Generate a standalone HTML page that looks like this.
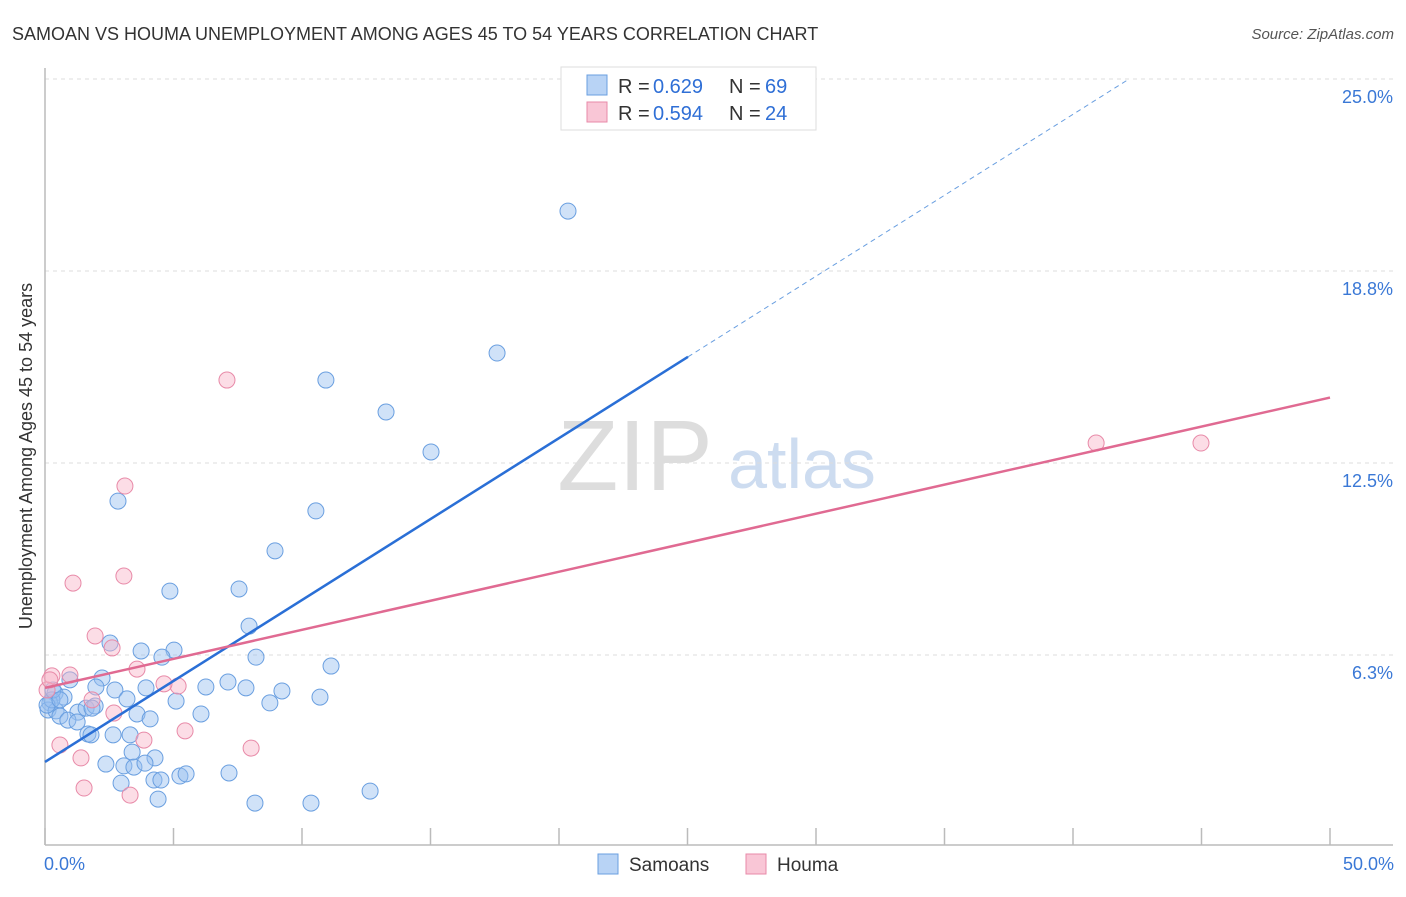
<!DOCTYPE html>
<html><head><meta charset="utf-8"><style>
body{margin:0;background:#fff;font-family:"Liberation Sans",sans-serif;}
svg text{font-family:"Liberation Sans",sans-serif;}
</style></head><body>
<svg id="chart" width="1406" height="892" xmlns="http://www.w3.org/2000/svg">
<text x="12" y="40" font-size="18" fill="#333">SAMOAN VS HOUMA UNEMPLOYMENT AMONG AGES 45 TO 54 YEARS CORRELATION CHART</text>
<text x="1394" y="39" font-size="15" fill="#555" font-style="italic" text-anchor="end">Source: ZipAtlas.com</text>
<text x="32" y="456" font-size="18" fill="#333" text-anchor="middle" transform="rotate(-90 32 456)">Unemployment Among Ages 45 to 54 years</text>
<g><text x="635" y="490" font-size="100" fill="#ddd" font-family="Liberation Serif" text-anchor="middle">ZIP</text><text x="802" y="488" font-size="70" fill="#cddcf0" text-anchor="middle">atlas</text></g>
<g id="grid"></g><g id="axes"></g><g id="marks"></g>
<g>
<rect x="561" y="67" width="255" height="63" fill="#fff" stroke="#ddd"/>
<rect x="587" y="75" width="20" height="20" fill="#b8d3f5" stroke="#6a9fe0"/>
<rect x="587" y="102" width="20" height="20" fill="#f9c6d6" stroke="#e88aa8"/>
<text x="618" y="93" font-size="20" fill="#333">R = </text><text x="653" y="93" font-size="20" fill="#2f6fd6">0.629</text>
<text x="729" y="93" font-size="20" fill="#333">N = </text><text x="765" y="93" font-size="20" fill="#2f6fd6">69</text>
<text x="618" y="120" font-size="20" fill="#333">R = </text><text x="653" y="120" font-size="20" fill="#2f6fd6">0.594</text>
<text x="729" y="120" font-size="20" fill="#333">N = </text><text x="765" y="120" font-size="20" fill="#2f6fd6">24</text>
</g>
<g>
<rect x="598" y="854" width="20" height="20" fill="#b8d3f5" stroke="#6a9fe0"/>
<text x="629" y="871" font-size="19" fill="#333">Samoans</text>
<rect x="746" y="854" width="20" height="20" fill="#f9c6d6" stroke="#e88aa8"/>
<text x="777" y="871" font-size="19" fill="#333">Houma</text>
</g>
</svg>
<script>
const yTicks=[25.0,18.8,12.5,6.3];
const yTickVals=[25,18.75,12.5,6.25];
const xTickLabels=["0.0%","50.0%"];
const samoanX=[20.35,17.59,10.93,13.27,15.02,10.54,2.84,8.95,4.86,7.55,7.94,2.53,3.74,5.02,4.55,8.21,11.13,2.22,0.97,1.98,2.72,3.93,6.26,7.12,7.82,9.22,10.70,0.39,0.74,0.19,0.12,0.43,0.58,1.28,1.60,1.95,3.19,5.10,8.75,0.89,1.25,1.83,3.58,4.09,6.07,1.67,1.79,2.65,3.31,3.39,4.28,2.37,3.07,3.46,3.89,5.25,5.49,4.24,4.51,2.96,7.16,4.40,8.17,10.35,12.65,0.27,0.08,0.31,0.58];
const samoanY=[20.70,16.08,15.2,14.16,12.86,10.94,11.26,9.64,8.33,8.40,7.19,6.64,6.38,6.41,6.18,6.18,5.89,5.50,5.44,5.21,5.11,5.18,5.21,5.37,5.18,5.08,4.88,5.01,4.88,4.69,4.46,4.43,4.26,4.39,4.52,4.59,4.82,4.75,4.69,4.13,4.07,4.52,4.33,4.17,4.33,3.68,3.65,3.65,3.65,3.09,2.90,2.70,2.64,2.60,2.73,2.31,2.38,2.18,2.18,2.08,2.41,1.56,1.43,1.43,1.82,4.79,4.62,5.11,4.79];
const houmaX=[7.08,3.11,3.07,1.09,1.95,2.61,3.58,0.27,0.97,5.18,4.63,0.08,1.83,2.68,5.45,0.58,3.85,1.40,8.02,1.52,3.31,40.9,44.98,0.19];
const houmaY=[15.2,11.75,8.82,8.59,6.87,6.48,5.79,5.57,5.60,5.24,5.31,5.11,4.79,4.36,3.78,3.32,3.48,2.90,3.22,1.92,1.69,13.15,13.15,5.44];
const samoanTrend=[2.77,0.527];
const houmaTrend=[5.18,0.189];
const NS="http://www.w3.org/2000/svg";
const X=v=>45+v*25.7, Y=v=>847-v*30.72;
function mk(tag,attrs,parent){const e=document.createElementNS(NS,tag);for(const k in attrs)e.setAttribute(k,attrs[k]);document.getElementById(parent).appendChild(e);return e;}
yTickVals.forEach((v,i)=>{
 let g=mk('line',{x1:45,x2:1393,y1:Y(v),y2:Y(v),stroke:'#ddd','stroke-dasharray':'4,4'},'grid');
 
 
 let t=mk('text',{x:1393,y:Y(v)+24,'font-size':18,fill:'#3a78d6','text-anchor':'end'},'grid');
 t.textContent=yTicks[i].toFixed(1)+'%';
 
 
});
let ax=mk('line',{x1:45,x2:1393,y1:845,y2:845,stroke:'#bbb','stroke-width':1.5},'axes');


let ay=mk('line',{x1:45,x2:45,y1:68,y2:845,stroke:'#bbb','stroke-width':1.5},'axes');


for(let i=0;i<=10;i++){let t=mk('line',{x1:X(i*5),x2:X(i*5),y1:828,y2:845,stroke:'#bbb','stroke-width':1.5},'axes');
 
 }
[[0,'start',44],[50,'end',1394]].forEach((d,i)=>{let t=mk('text',{x:d[2],y:870,'font-size':18,fill:'#3a78d6','text-anchor':d[1]},'axes');t.textContent=xTickLabels[i];
 
 });
samoanX.forEach((x,i)=>{let c=mk('circle',{cx:X(x),cy:Y(samoanY[i]),r:8,fill:'rgba(150,190,240,0.45)',stroke:'#6a9fe0','stroke-width':1},'marks');
 
 });
houmaX.forEach((x,i)=>{let c=mk('circle',{cx:X(x),cy:Y(houmaY[i]),r:8,fill:'rgba(248,180,200,0.45)',stroke:'#e88aa8','stroke-width':1},'marks');
 
 });
const xEnd=25.02, xDash=(25-samoanTrend[0])/samoanTrend[1];
let l1=mk('line',{x1:X(0),y1:Y(samoanTrend[0]),x2:X(xEnd),y2:Y(samoanTrend[0]+samoanTrend[1]*xEnd),stroke:'#2a6fd6','stroke-width':2.5},'marks');


let l2=mk('line',{x1:X(xEnd),y1:Y(samoanTrend[0]+samoanTrend[1]*xEnd),x2:X(xDash),y2:Y(25),stroke:'#6a9fe0','stroke-width':1,'stroke-dasharray':'5,4'},'marks');


let l3=mk('line',{x1:X(0),y1:Y(houmaTrend[0]),x2:X(50),y2:Y(houmaTrend[0]+houmaTrend[1]*50),stroke:'#e06a92','stroke-width':2.5},'marks');


</script>
</body></html>
